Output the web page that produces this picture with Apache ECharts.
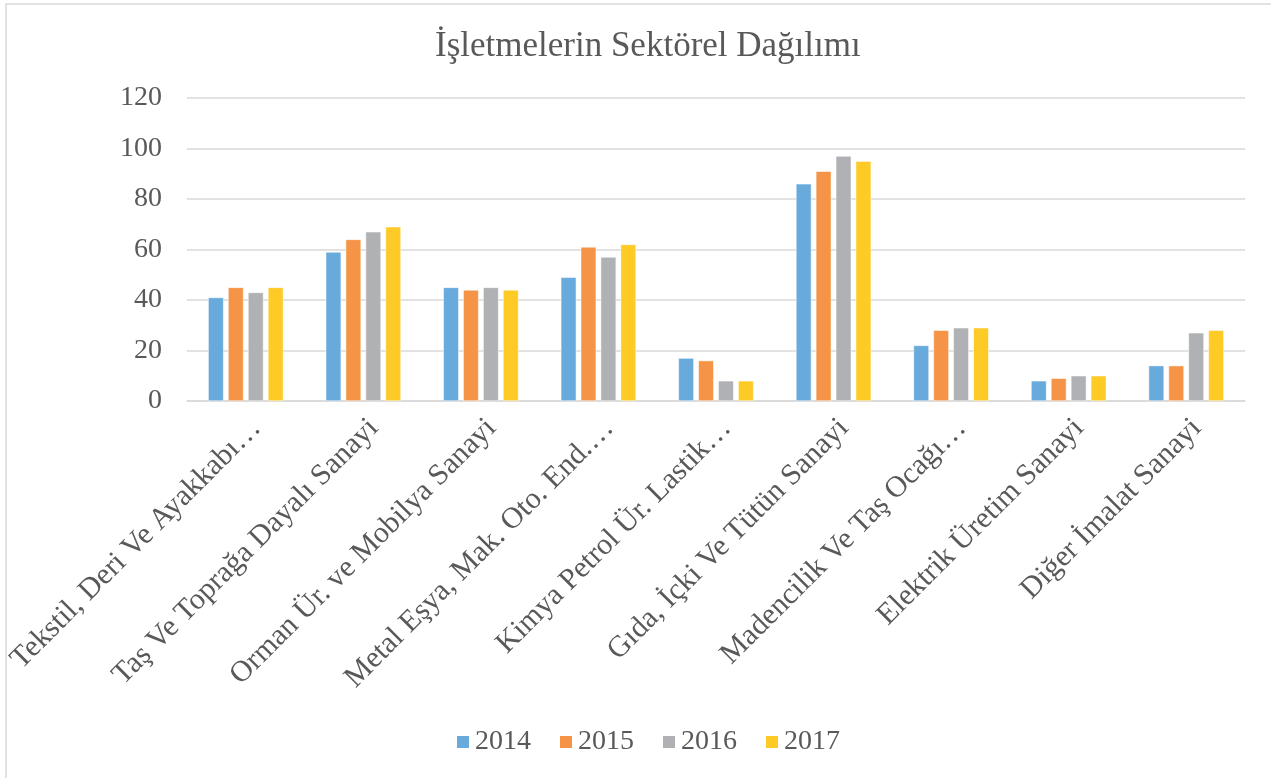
<!DOCTYPE html>
<html><head><meta charset="utf-8">
<script src="https://cdn.jsdelivr.net/npm/echarts@6/dist/echarts.min.js"></script>
<style>html,body{margin:0;padding:0;background:#fff}#c{width:1271px;height:778px}</style>
</head><body><div id="c"></div>
<script>
const categories = ["Tekstil, Deri Ve Ayakkabı…","Taş Ve Toprağa Dayalı Sanayi","Orman Ür. ve Mobilya Sanayi","Metal Eşya, Mak. Oto. End.…","Kimya Petrol Ür. Lastik…","Gıda, İçki Ve Tütün Sanayi","Madencilik Ve Taş Ocağı…","Elektrik Üretim Sanayi","Diğer İmalat Sanayi"];
const seriesNames = ["2014","2015","2016","2017"];
const v2014 = [41,59,45,49,17,86,22,8,14];
const v2015 = [45,64,44,61,16,91,28,9,14];
const v2016 = [43,67,45,57,8,97,29,10,27];
const v2017 = [45,69,44,62,8,95,29,10,28];
const values = [v2014,v2015,v2016,v2017];
const colors = ["#67aadb","#f59446","#b0b1b5","#fdca26"];
const font = "'Liberation Serif','Times New Roman',serif";
const chart = echarts.init(document.getElementById('c'));
chart.setOption({
  animation:false,
  title:{text:"İşletmelerin Sektörel Dağılımı",left:430,top:24,textStyle:{fontFamily:font,fontSize:35,fontWeight:'normal',color:'#595959'}},
  legend:{data:seriesNames,bottom:17,left:450,itemWidth:14,itemHeight:14,itemGap:27,icon:'rect',textStyle:{fontFamily:font,fontSize:28,color:'#595959'}},
  grid:{left:187,right:26,top:98,bottom:377,outerBoundsMode:'none',containLabel:false},
  xAxis:{type:'category',data:categories,axisLine:{lineStyle:{color:'#d9d9d9',width:1.5}},axisTick:{show:false},
    axisLabel:{rotate:45,interval:0,margin:12,verticalAlign:'top',hideOverlap:false,fontFamily:font,fontSize:30,color:'#595959'}},
  yAxis:{type:'value',min:0,max:120,interval:20,axisLine:{show:false},axisTick:{show:false},
    splitLine:{lineStyle:{color:'#d9d9d9',width:1.5}},
    axisLabel:{margin:25,fontFamily:font,fontSize:28,color:'#595959'}},
  graphic:[{type:'rect',shape:{x:6,y:4,width:1300,height:800},style:{fill:'none',stroke:'#d9d9d9',lineWidth:1.5},silent:true}],
  series:seriesNames.map((n,i)=>({name:n,type:'bar',data:values[i],barGap:'29%',barCategoryGap:'36%',
    itemStyle:{color:colors[i],borderColor:'#fff',borderWidth:0.5}}))
});
</script></body></html>
